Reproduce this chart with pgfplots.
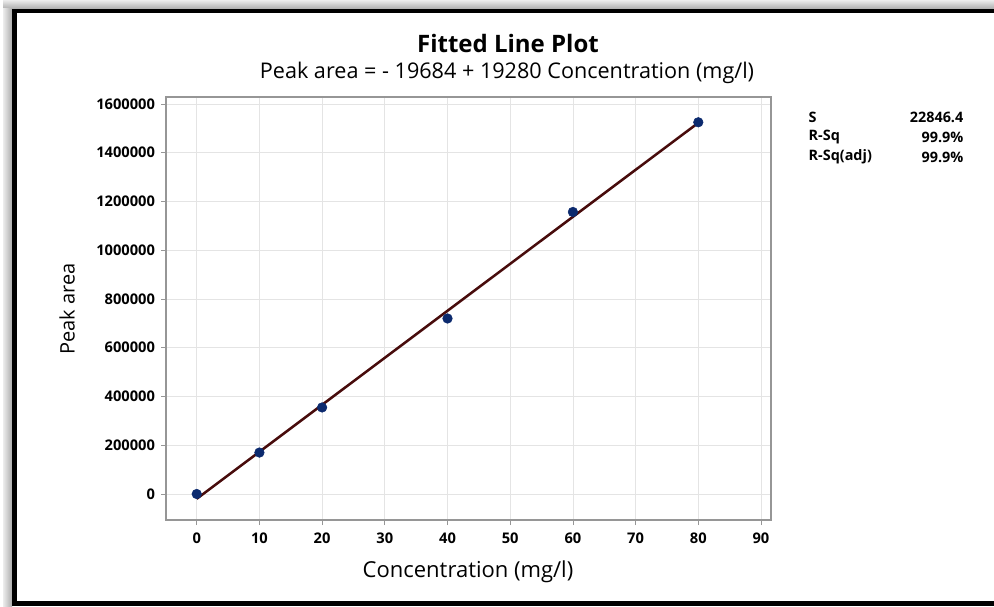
\documentclass[border=0pt]{standalone}
\usepackage{fontspec}
\setmainfont{Open Sans}
\usepackage{pgfplots}
\pgfplotsset{compat=1.18}

\definecolor{ptblue}{RGB}{12,42,110}
\definecolor{fitline}{RGB}{72,12,12}
\definecolor{gridc}{RGB}{228,228,228}
\definecolor{framec}{RGB}{150,150,150}

\begin{document}
\begin{tikzpicture}
  % canvas: 994x606 px, 1 px = 0.75pt
  \path[use as bounding box] (0,0) rectangle (745.5pt,454.5pt);

  \begin{axis}[
    at={(124.5pt,64.5pt)}, anchor=south west,
    scale only axis,
    width=453.75pt, height=317.25pt,
    xmin=-4.9, xmax=91.6,
    ymin=-106700, ymax=1628700,
    xtick={0,10,...,90},
    ytick={0,200000,...,1600000},
    scaled y ticks=false,
    /pgf/number format/.cd, fixed, set thousands separator={}, assume math mode=true,
    /pgfplots/.cd,
    tick align=outside,
    major tick length=3.75pt,
    xtick pos=bottom, ytick pos=left,
    tick style={framec, line width=0.6pt},
    axis line style={framec, line width=0.8pt},
    grid=major,
    major grid style={gridc, line width=0.6pt},
    ticklabel style={font=\bfseries\fontsize{11}{13}\selectfont},
    xticklabel style={yshift=-2pt},
    yticklabel style={xshift=-1pt},
  ]
    % fitted line: Peak area = -19684 + 19280 Concentration
    \addplot[fitline, line width=1.9pt] coordinates {(0,-19684) (80,1522716)};
    \addplot[only marks, mark=*, mark size=3.6pt, ptblue] coordinates {
      (0,0) (10,170000) (20,355000) (40,720000) (60,1157000) (80,1525000)
    };
  \end{axis}

  \begin{scope}[x=0.75pt,y=0.75pt]
    % window frame with shadow
    \shade[top color=gray!15, bottom color=gray!65] (3,606-0) rectangle (994,606-9);
    \shade[left color=gray!15, right color=gray!65] (3,0) rectangle (12,606-9);
    \draw[black, line width=3.6pt] (14.5,0) -- (14.5,606-11) -- (994,606-11);
    \draw[black, line width=3.6pt] (14.5,606-603.5) -- (994,606-603.5);

    % titles
    \node[font=\bfseries\fontsize{18}{20}\selectfont] at (508,606-44) {Fitted Line Plot};
    \node[font=\fontsize{16.2}{19}\selectfont] at (507,606-73) {Peak area = - 19684 + 19280 Concentration (mg/l)};

    % axis labels
    \node[font=\fontsize{16.5}{19}\selectfont] at (468,606-572) {Concentration (mg/l)};
    \node[font=\fontsize{15}{18}\selectfont, rotate=90] at (67,606-309) {Peak area};

    % summary statistics
    \begin{scope}[font=\bfseries\fontsize{10.8}{13}\selectfont]
      \node[anchor=west] at (804,606-117) {S};
      \node[anchor=west] at (804,606-137) {R-Sq};
      \node[anchor=west] at (804,606-157) {R-Sq(adj)};
      \node[anchor=east] at (968,606-117) {22846.4};
      \node[anchor=east] at (968,606-137) {99.9\%};
      \node[anchor=east] at (968,606-157) {99.9\%};
    \end{scope}
  \end{scope}
\end{tikzpicture}
\end{document}
